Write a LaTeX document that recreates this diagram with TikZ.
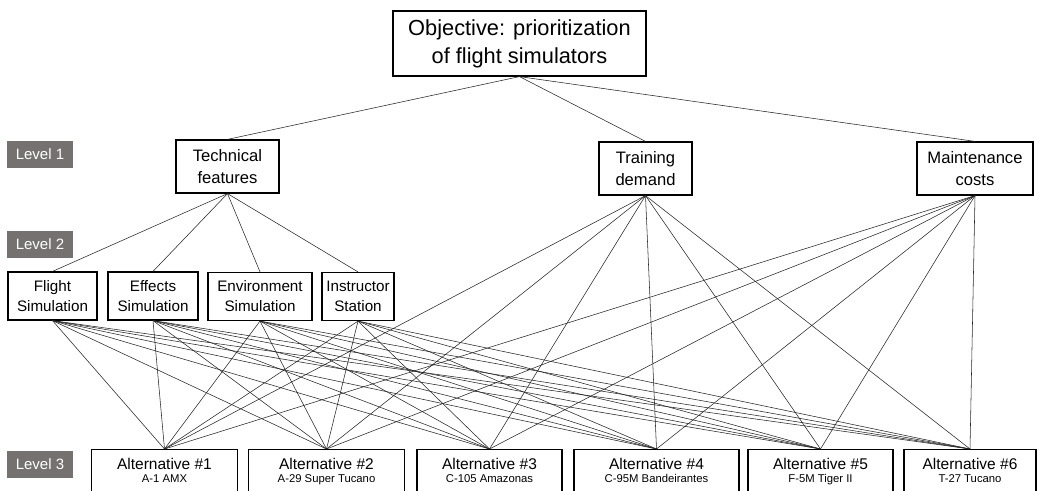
\documentclass[tikz,border=0pt]{standalone}
\usepackage{fontspec}
\setmainfont{Liberation Sans}
\usetikzlibrary{positioning}
\definecolor{levelGray}{HTML}{767171}
\definecolor{linkGray}{HTML}{262626}

\begin{document}
\begin{tikzpicture}[x=1pt, y=-1pt,
          crit/.style={draw, line width=1.2pt, align=center, inner sep=0pt},
          goal/.style={crit, minimum width=253pt, minimum height=65pt, font=\fontsize{21.8}{28}\selectfont},
          main/.style={crit, minimum height=53pt, font=\fontsize{16.6}{22}\selectfont},
          sub/.style={crit, minimum height=48pt, font=\fontsize{15.2}{20}\selectfont},
          alt/.style={draw, line width=1.2pt, align=center, anchor=north, inner xsep=0pt, inner ysep=9pt,
                      text depth=25pt, font=\fontsize{15.5}{13}\selectfont},
          level/.style={fill=levelGray, text=white, minimum width=66pt, minimum height=27pt, inner sep=0pt,
                        font=\fontsize{15}{16}\selectfont},
          link/.style={linkGray, line width=0.55pt}]
        \clip (0,0) rectangle (1040,490);
        % levels
        \node[level] (lv1) at (40,154.5) {Level 1};
        \node[level] (lv2) at (40,244.5) {Level 2};
        \node[level] (lv3) at (40,464) {Level 3};
        % objective and criteria
        \node[goal] (obj) at (519.5,43.5) {Objective: prioritization\\of flight simulators};
        \node[main, minimum width=103pt] (tech) at (227.5,166.5) {Technical\\features};
        \node[main, minimum width=93pt] (train) at (645.5,168.5) {Training\\demand};
        \node[main, minimum width=116pt] (maint) at (975,168.5) {Maintenance\\costs};
        % sub-criteria
        \node[sub, minimum width=89pt] (flight) at (52.5,296) {Flight\\Simulation};
        \node[sub, minimum width=90pt] (effects) at (153,296) {Effects\\Simulation};
        \node[sub, minimum width=104pt] (env) at (260,296.5) {Environment\\Simulation};
        \node[sub, minimum width=72pt] (instr) at (358,296.5) {Instructor\\Station};
        % alternatives
        \node[alt, minimum width=146pt] (alt1) at (164.5,449) {Alternative \#1\\{\fontsize{11.3}{13}\selectfont A-1 AMX}};
        \node[alt, minimum width=156pt] (alt2) at (326.5,449) {Alternative \#2\\{\fontsize{11.3}{13}\selectfont A-29 Super Tucano}};
        \node[alt, minimum width=145pt] (alt3) at (489.5,449) {Alternative \#3\\{\fontsize{11.3}{13}\selectfont C-105 Amazonas}};
        \node[alt, minimum width=165pt] (alt4) at (656.5,449) {Alternative \#4\\{\fontsize{11.3}{13}\selectfont C-95M Bandeirantes}};
        \node[alt, minimum width=145pt] (alt5) at (820.5,449) {Alternative \#5\\{\fontsize{11.3}{13}\selectfont F-5M Tiger II}};
        \node[alt, minimum width=132pt] (alt6) at (970,449) {Alternative \#6\\{\fontsize{11.3}{13}\selectfont T-27 Tucano}};
        % links
        \foreach \c in {tech,train,maint}
          \draw[link] (obj.south) -- (\c.north);
        \foreach \s in {flight,effects,env,instr}
          \draw[link] (tech.south) -- (\s.north);
        \foreach \s in {flight,effects,env,instr,train,maint} {
          \foreach \a in {alt1,alt2,alt3,alt4,alt5,alt6}
            \draw[link] (\s.south) -- (\a.north);
        }
      \end{tikzpicture}
\end{document}
